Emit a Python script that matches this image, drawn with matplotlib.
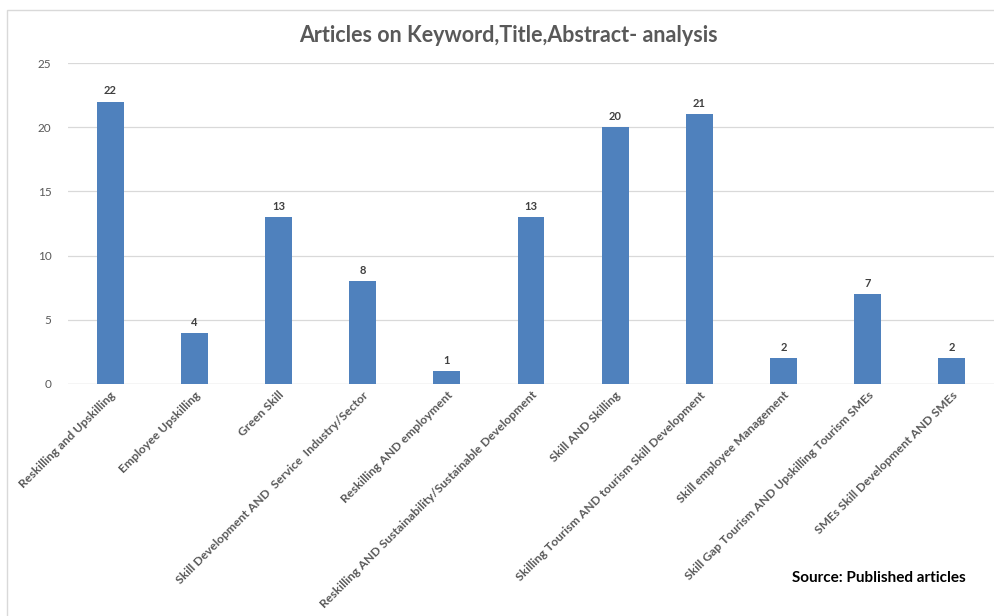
import numpy as np
import matplotlib.pyplot as plt
from matplotlib.patches import Rectangle

categories = [
    "Reskilling and Upskilling",
    "Employee Upskilling",
    "Green Skill",
    "Skill Development AND  Service  Industry/Sector",
    "Reskilling AND employment",
    "Reskilling AND Sustainability/Sustainable Development",
    "Skill AND Skilling",
    "Skilling Tourism AND tourism Skill Development",
    "Skill employee Management",
    "Skill Gap Tourism AND Upskilling Tourism SMEs",
    "SMEs Skill Development AND SMEs",
]
counts = [22, 4, 13, 8, 1, 13, 20, 21, 2, 7, 2]
yticks = [0, 5, 10, 15, 20, 25]

W, H = 995, 616
fig = plt.figure(figsize=(W / 100, H / 100), dpi=100)
plt.rcParams['font.family'] = ['Lato', 'DejaVu Sans']

# outer chart border
fig.patches.append(Rectangle((7 / W, -0.1), 1.2, 1 - 10 / H + 0.1, transform=fig.transFigure,
                             fill=False, edgecolor='#d9d9d9', linewidth=1.0))

ax = fig.add_axes([68 / W, 1 - 384 / H, (994 - 68) / W, (384 - 63) / H])
x = np.arange(len(categories))
bars = ax.bar(x, counts, width=0.32, color='#4f81bd', zorder=3)
for xi, v in zip(x, counts):
    ax.text(xi, v + 0.4, str(v), ha='center', va='bottom', fontsize=8,
            fontweight='bold', color='#404040')

ax.set_xlim(-0.5, len(categories) - 0.5)
ax.set_ylim(0, 25)
ax.set_yticks(yticks)
ax.yaxis.grid(True, color='#d9d9d9', linewidth=0.9, zorder=0)
ax.tick_params(axis='y', length=0, labelsize=8.5, labelcolor='#595959', pad=12)
ax.tick_params(axis='x', length=0, labelsize=8.7, labelcolor='#595959', pad=4)
ax.set_xticks(x)
ax.set_xticklabels(categories, rotation=45, ha='right', rotation_mode='anchor',
                   fontweight='bold')
for s in ax.spines.values():
    s.set_visible(False)
ax.axhline(0, color='#d9d9d9', linewidth=0.9, zorder=2)

fig.text(508 / W, 1 - 35 / H, "Articles on Keyword,Title,Abstract- analysis",
         ha='center', va='center', fontsize=15.5, fontweight='bold', color='#595959')
fig.text(966 / W, 1 - 578 / H, "Source: Published articles", ha='right', va='center',
         fontsize=11, fontweight='bold', color='black')

fig.savefig('out.png', dpi=100, facecolor='white')
